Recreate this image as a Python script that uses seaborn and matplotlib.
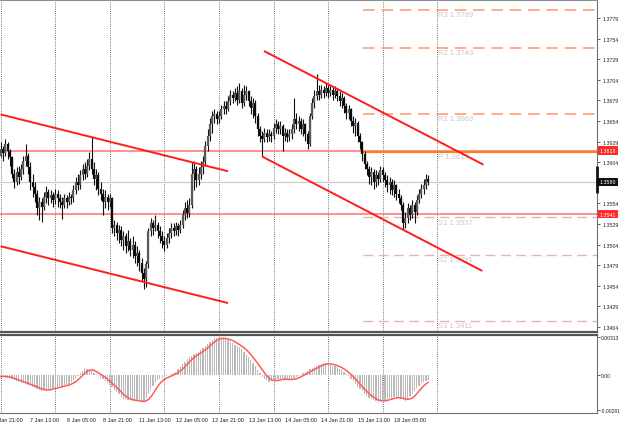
import numpy as np
import pandas as pd
import matplotlib
matplotlib.use("Agg")
import matplotlib.pyplot as plt
from matplotlib.lines import Line2D
import seaborn as sns

# H1 bars, bar 0 = 7 Jan 00:00, open of each bar = previous close
first_open = 1.3612
closes = [
    1.3620, 1.3615, 1.3626, 1.3618, 1.3610, 1.3590, 1.3580, 1.3592, 1.3586, 1.3596,
    1.3606, 1.3612, 1.3598, 1.3580, 1.3574, 1.3566, 1.3548, 1.3556, 1.3550, 1.3562,
    1.3568, 1.3560, 1.3564, 1.3558, 1.3565, 1.3560, 1.3556, 1.3552, 1.3560, 1.3556,
    1.3562, 1.3560, 1.3570, 1.3580, 1.3576, 1.3588, 1.3596, 1.3590, 1.3600, 1.3608,
    1.3596, 1.3584, 1.3588, 1.3572, 1.3566, 1.3556, 1.3562, 1.3556, 1.3560, 1.3524,
    1.3528, 1.3518, 1.3522, 1.3510, 1.3514, 1.3502, 1.3508, 1.3498, 1.3504, 1.3490,
    1.3494, 1.3482, 1.3470, 1.3462, 1.3480, 1.3520, 1.3530, 1.3524, 1.3528, 1.3520,
    1.3514, 1.3508, 1.3504, 1.3512, 1.3518, 1.3524, 1.3520, 1.3526, 1.3522, 1.3528,
    1.3540, 1.3548, 1.3542, 1.3552, 1.3590, 1.3596, 1.3582, 1.3590, 1.3598, 1.3604,
    1.3624, 1.3636, 1.3650, 1.3660, 1.3662, 1.3656, 1.3660, 1.3668, 1.3672, 1.3668,
    1.3678, 1.3686, 1.3682, 1.3688, 1.3680, 1.3690, 1.3676, 1.3686, 1.3690, 1.3678,
    1.3670, 1.3676, 1.3660, 1.3644, 1.3636, 1.3632, 1.3640, 1.3634, 1.3638, 1.3636,
    1.3646, 1.3650, 1.3644, 1.3648, 1.3636, 1.3640, 1.3634, 1.3638, 1.3644, 1.3656,
    1.3650, 1.3654, 1.3644, 1.3650, 1.3638, 1.3626, 1.3660, 1.3676, 1.3684, 1.3690,
    1.3686, 1.3692, 1.3688, 1.3694, 1.3688, 1.3692, 1.3686, 1.3690, 1.3684, 1.3678,
    1.3682, 1.3672, 1.3664, 1.3668, 1.3654, 1.3648, 1.3652, 1.3636, 1.3628, 1.3614,
    1.3602, 1.3596, 1.3586, 1.3592, 1.3580, 1.3588, 1.3584, 1.3594, 1.3588, 1.3582,
    1.3576, 1.3580, 1.3570, 1.3576, 1.3566, 1.3560, 1.3552, 1.3530, 1.3536, 1.3548,
    1.3540, 1.3552, 1.3544, 1.3558, 1.3566, 1.3572, 1.3576, 1.3584, 1.3580,
]
highs = [
    1.3628, 1.3624, 1.3632, 1.3629, 1.3620, 1.3612, 1.3596, 1.3598, 1.3599, 1.3602,
    1.3612, 1.3626, 1.3615, 1.3604, 1.3590, 1.3580, 1.3570, 1.3562, 1.3560, 1.3568,
    1.3575, 1.3572, 1.3570, 1.3568, 1.3572, 1.3570, 1.3566, 1.3562, 1.3566, 1.3564,
    1.3568, 1.3566, 1.3576, 1.3586, 1.3590, 1.3594, 1.3602, 1.3604, 1.3608, 1.3616,
    1.3634, 1.3604, 1.3596, 1.3592, 1.3580, 1.3572, 1.3570, 1.3566, 1.3566, 1.3562,
    1.3534, 1.3532, 1.3528, 1.3526, 1.3520, 1.3518, 1.3522, 1.3512, 1.3514, 1.3508,
    1.3502, 1.3498, 1.3488, 1.3476, 1.3484, 1.3524, 1.3536, 1.3534, 1.3540, 1.3532,
    1.3526, 1.3520, 1.3514, 1.3518, 1.3524, 1.3530, 1.3530, 1.3532, 1.3530, 1.3534,
    1.3546, 1.3556, 1.3558, 1.3560, 1.3604, 1.3606, 1.3600, 1.3598, 1.3606, 1.3612,
    1.3630, 1.3644, 1.3658, 1.3666, 1.3668, 1.3666, 1.3666, 1.3674, 1.3678, 1.3678,
    1.3684, 1.3692, 1.3690, 1.3694, 1.3696, 1.3700, 1.3694, 1.3698, 1.3696, 1.3692,
    1.3684, 1.3682, 1.3680, 1.3664, 1.3648, 1.3642, 1.3646, 1.3644, 1.3644, 1.3642,
    1.3652, 1.3656, 1.3654, 1.3654, 1.3650, 1.3646, 1.3644, 1.3644, 1.3650, 1.3682,
    1.3664, 1.3660, 1.3658, 1.3656, 1.3652, 1.3642, 1.3664, 1.3682, 1.3692, 1.3711,
    1.3698, 1.3698, 1.3696, 1.3700, 1.3698, 1.3698, 1.3696, 1.3696, 1.3694, 1.3690,
    1.3688, 1.3684, 1.3676, 1.3674, 1.3670, 1.3660, 1.3658, 1.3654, 1.3640, 1.3630,
    1.3618, 1.3606, 1.3600, 1.3598, 1.3596, 1.3594, 1.3592, 1.3600, 1.3598, 1.3592,
    1.3588, 1.3586, 1.3584, 1.3582, 1.3578, 1.3572, 1.3564, 1.3556, 1.3544, 1.3554,
    1.3552, 1.3558, 1.3556, 1.3564, 1.3572, 1.3578, 1.3584, 1.3590, 1.3588,
]
lows = [
    1.3610, 1.3606, 1.3612, 1.3608, 1.3600, 1.3585, 1.3573, 1.3576, 1.3578, 1.3582,
    1.3590, 1.3600, 1.3590, 1.3570, 1.3562, 1.3556, 1.3540, 1.3534, 1.3531, 1.3546,
    1.3555, 1.3552, 1.3554, 1.3550, 1.3553, 1.3550, 1.3548, 1.3535, 1.3548, 1.3549,
    1.3552, 1.3553, 1.3556, 1.3566, 1.3570, 1.3572, 1.3582, 1.3584, 1.3586, 1.3594,
    1.3590, 1.3576, 1.3570, 1.3564, 1.3558, 1.3540, 1.3548, 1.3546, 1.3550, 1.3518,
    1.3514, 1.3510, 1.3506, 1.3502, 1.3498, 1.3494, 1.3496, 1.3490, 1.3488, 1.3482,
    1.3478, 1.3472, 1.3460, 1.3450, 1.3452, 1.3476, 1.3514, 1.3516, 1.3520, 1.3512,
    1.3506, 1.3500, 1.3496, 1.3500, 1.3506, 1.3512, 1.3514, 1.3516, 1.3514, 1.3518,
    1.3524, 1.3534, 1.3536, 1.3538, 1.3548, 1.3570, 1.3574, 1.3576, 1.3584, 1.3590,
    1.3600, 1.3618, 1.3630, 1.3640, 1.3652, 1.3650, 1.3652, 1.3656, 1.3662, 1.3662,
    1.3666, 1.3674, 1.3676, 1.3678, 1.3674, 1.3676, 1.3670, 1.3672, 1.3680, 1.3672,
    1.3662, 1.3658, 1.3652, 1.3636, 1.3628, 1.3612, 1.3628, 1.3628, 1.3630, 1.3628,
    1.3632, 1.3640, 1.3638, 1.3638, 1.3618, 1.3630, 1.3628, 1.3630, 1.3632, 1.3640,
    1.3644, 1.3642, 1.3638, 1.3636, 1.3630, 1.3620, 1.3624, 1.3656, 1.3670, 1.3680,
    1.3680, 1.3682, 1.3682, 1.3684, 1.3682, 1.3684, 1.3680, 1.3682, 1.3678, 1.3672,
    1.3670, 1.3664, 1.3656, 1.3656, 1.3648, 1.3640, 1.3636, 1.3628, 1.3620, 1.3606,
    1.3596, 1.3588, 1.3578, 1.3576, 1.3572, 1.3574, 1.3576, 1.3580, 1.3580, 1.3574,
    1.3568, 1.3566, 1.3564, 1.3562, 1.3558, 1.3554, 1.3546, 1.3522, 1.3524, 1.3530,
    1.3534, 1.3536, 1.3530, 1.3540, 1.3554, 1.3560, 1.3566, 1.3572, 1.3576,
]
# MACD main (histogram); the signal line is its moving average
macd = [
    -0.00012, -0.00004, -0.00011, -0.00018, -0.00024, -0.00031, -0.00038, -0.00045, -0.00051, -0.00058,
    -0.00064, -0.00071, -0.00077, -0.00085, -0.00093, -0.00101, -0.00110, -0.00118, -0.00126, -0.00121,
    -0.00116, -0.00112, -0.00107, -0.00102, -0.00097, -0.00093, -0.00088, -0.00083, -0.00078, -0.00074,
    -0.00069, -0.00053, -0.00036, -0.00020, -0.00004, 0.00018, 0.00039, 0.00061, 0.00051, 0.00041,
    0.00032, 0.00022, 0.00012, -0.00002, -0.00017, -0.00031, -0.00045, -0.00063, -0.00081, -0.00098,
    -0.00116, -0.00134, -0.00153, -0.00172, -0.00191, -0.00194, -0.00198, -0.00201, -0.00205, -0.00208,
    -0.00210, -0.00212, -0.00214, -0.00216, -0.00183, -0.00151, -0.00118, -0.00085, -0.00061, -0.00037,
    -0.00029, -0.00021, -0.00013, -0.00005, 0.00004, 0.00012, 0.00020, 0.00028, 0.00049, 0.00069,
    0.00090, 0.00110, 0.00131, 0.00151, 0.00161, 0.00171, 0.00181, 0.00191, 0.00207, 0.00224,
    0.00240, 0.00256, 0.00272, 0.00289, 0.00305, 0.00303, 0.00302, 0.00300, 0.00299, 0.00297,
    0.00285, 0.00274, 0.00262, 0.00251, 0.00239, 0.00228, 0.00216, 0.00193, 0.00170, 0.00147,
    0.00123, 0.00100, 0.00077, 0.00047, 0.00018, -0.00012, -0.00026, -0.00039, -0.00053, -0.00047,
    -0.00041, -0.00034, -0.00028, -0.00030, -0.00032, -0.00033, -0.00035, -0.00037, -0.00029, -0.00020,
    -0.00012, -0.00004, 0.00007, 0.00018, 0.00029, 0.00039, 0.00050, 0.00061, 0.00069, 0.00077,
    0.00086, 0.00094, 0.00102, 0.00097, 0.00091, 0.00086, 0.00080, 0.00075, 0.00069, 0.00054,
    0.00040, 0.00025, 0.00011, -0.00004, -0.00027, -0.00049, -0.00072, -0.00094, -0.00112, -0.00130,
    -0.00148, -0.00165, -0.00183, -0.00191, -0.00199, -0.00208, -0.00216, -0.00210, -0.00204, -0.00197,
    -0.00191, -0.00187, -0.00183, -0.00179, -0.00175, -0.00183, -0.00191, -0.00200, -0.00208, -0.00189,
    -0.00170, -0.00151, -0.00128, -0.00106, -0.00083, -0.00061, -0.00052, -0.00046, -0.00040,
]

time_labels = ["6 Jan 21:00", "7 Jan 13:00", "8 Jan 05:00", "8 Jan 21:00", "11 Jan 13:00",
               "12 Jan 05:00", "12 Jan 21:00", "13 Jan 13:00", "14 Jan 05:00", "14 Jan 21:00",
               "15 Jan 13:00", "18 Jan 05:00"]
time_label_bars = [-3, 13, 29, 45, 61, 77, 93, 109, 125, 141, 157, 173]
day_bars = [0, 24, 48, 72, 96, 120, 144, 168, 192]

price_ticks = [1.3779, 1.3754, 1.3729, 1.3704, 1.3679, 1.3654, 1.3629, 1.3604,
               1.3554, 1.3529, 1.3504, 1.3479, 1.3454, 1.3429, 1.3404]
macd_ticks = [0.00313, 0.0, -0.00281]
macd_tick_labels = ["0.00313", "0.00", "-0.00281"]

pivot_names = ["R3", "R2", "R1", "P", "S1", "S2", "S3"]
pivot_values = [1.3789, 1.3743, 1.3663, 1.3617, 1.3537, 1.3491, 1.3411]
pivot_start_bar = 159.5
level_values = [1.3618, 1.3541]
bid = 1.3580

# trend lines as (bar, price) end points
trend_lines = [
    ((0, 1.3662), (100, 1.3593)),
    ((0, 1.3502), (100, 1.3433)),
    ((115.8, 1.3739), (212.3, 1.3601)),
    ((114.9, 1.3611), (211.8, 1.3472)),
]

n = len(closes)
df = pd.DataFrame({"bar": np.arange(n), "high": highs, "low": lows, "close": closes, "macd": macd})
df["open"] = [first_open] + closes[:-1]
df["signal"] = df["macd"].rolling(5, min_periods=1).mean()

sns.set_style("white")
plt.rcParams["font.family"] = ["Liberation Sans", "DejaVu Sans"]

W, H = 620, 427
fig = plt.figure(figsize=(6.2, 4.27), dpi=100)
ax = fig.add_axes([0, 94 / H, 597 / W, 332 / H])
ax2 = fig.add_axes([0, 13 / H, 597 / W, 78 / H])

px_per_bar = 2.274
x_lo = -0.3
x_hi = 597 / px_per_bar + x_lo

# ---- price panel
for b in day_bars:
    ax.axvline(b, color="#444444", lw=0.6, ls=(0, (1, 1.6)), zorder=1)
    ax2.axvline(b, color="#444444", lw=0.6, ls=(0, (1, 1.6)), zorder=1)

ax.axhline(bid, color="#c8c8c8", lw=0.8, zorder=1)
for lv in level_values:
    ax.axhline(lv, color="#ff7070", lw=1.1, zorder=2)

for name, v in zip(pivot_names, pivot_values):
    if name.startswith("R"):
        ax.hlines(v, pivot_start_bar, x_hi, color="#ff9f7a", lw=1.2, ls=(0, (7, 4)), zorder=2)
    elif name == "P":
        ax.hlines(v, pivot_start_bar, x_hi, color="#ff7f1e", lw=1.6, zorder=3)
    else:
        ax.hlines(v, pivot_start_bar, x_hi, color="#e6b4b4", lw=1.0, ls=(0, (7, 4)), zorder=2)
    ax.text(192.5, v - 0.00014, f"{name} {v:.4f}", fontsize=5.5, color="#c8c8c8",
            va="top", ha="left", zorder=2)

up = df["close"] >= df["open"]
ax.vlines(df["bar"], df["low"], df["high"], color="#111111", lw=0.8, zorder=4)
ax.vlines(df["bar"][up], df["open"][up], df["close"][up], color="#5a5a5a", lw=1.6, zorder=4)
ax.vlines(df["bar"][~up], df["open"][~up], df["close"][~up], color="#0a0a0a", lw=1.6, zorder=4)

for (x0, y0), (x1, y1) in trend_lines:
    ax.plot([x0, x1], [y0, y1], color="#ff1c1c", lw=1.4, zorder=5, solid_capstyle="butt")

ax.set_xlim(x_lo, x_hi)
ax.set_ylim(1.33979, 1.38009)
ax.set_xticks([])
ax.yaxis.tick_right()
ax.set_yticks(price_ticks)
ax.set_yticklabels([f"{t:.4f}" for t in price_ticks])
ax.tick_params(axis="y", length=2, width=0.5, labelsize=3.8, pad=2, colors="#222222")

for txt, v, bg in [("1.3618", 1.3618, "#ff2a2a"), ("1.3580", bid, "#111111"), ("1.3541", 1.3541, "#ff2a2a")]:
    ax.annotate(txt, xy=(1.0, v), xycoords=("axes fraction", "data"), xytext=(2, 0),
                textcoords="offset points", fontsize=3.8, color="white", va="center", ha="left",
                bbox=dict(boxstyle="square,pad=0.35", fc=bg, ec="none"), annotation_clip=False)

ax.spines["left"].set_visible(False)
ax.spines["top"].set_color("#909090")
ax.spines["right"].set_color("#707070")
ax.spines["bottom"].set_color("#555555")
ax.spines["bottom"].set_linewidth(1.6)
ax.spines["right"].set_linewidth(0.8)

# ---- MACD panel
ax2.bar(df["bar"], df["macd"], width=0.55, color="#b8b8b8", linewidth=0, zorder=2)
sns.lineplot(data=df, x="bar", y="signal", ax=ax2, color="#ff5a5a", lw=1.1, zorder=3)

ax2.set_xlim(x_lo, x_hi)
ax2.set_ylim(-0.00306, 0.00329)
ax2.set_xticks([])
ax2.set_xlabel("")
ax2.set_ylabel("")
ax2.yaxis.tick_right()
ax2.set_yticks(macd_ticks)
ax2.set_yticklabels(macd_tick_labels)
ax2.tick_params(axis="y", length=2, width=0.5, labelsize=3.6, pad=1, colors="#222222")
ax2.spines["left"].set_visible(False)
ax2.spines["top"].set_color("#555555")
ax2.spines["top"].set_linewidth(1.6)
ax2.spines["right"].set_color("#707070")
ax2.spines["right"].set_linewidth(0.8)
ax2.spines["bottom"].set_color("#707070")
ax2.spines["bottom"].set_linewidth(0.8)

for lab, b in zip(time_labels, time_label_bars):
    ax2.text(b, -0.085, lab, transform=ax2.get_xaxis_transform(), fontsize=4, color="#222222",
             ha="left", va="center", clip_on=False)

fig.add_artist(Line2D([596.5 / W, 596.5 / W], [1 - 168 / H, 1 - 193 / H], lw=2, color="#111111"))

fig.savefig("out.png", dpi=100, facecolor="white")
